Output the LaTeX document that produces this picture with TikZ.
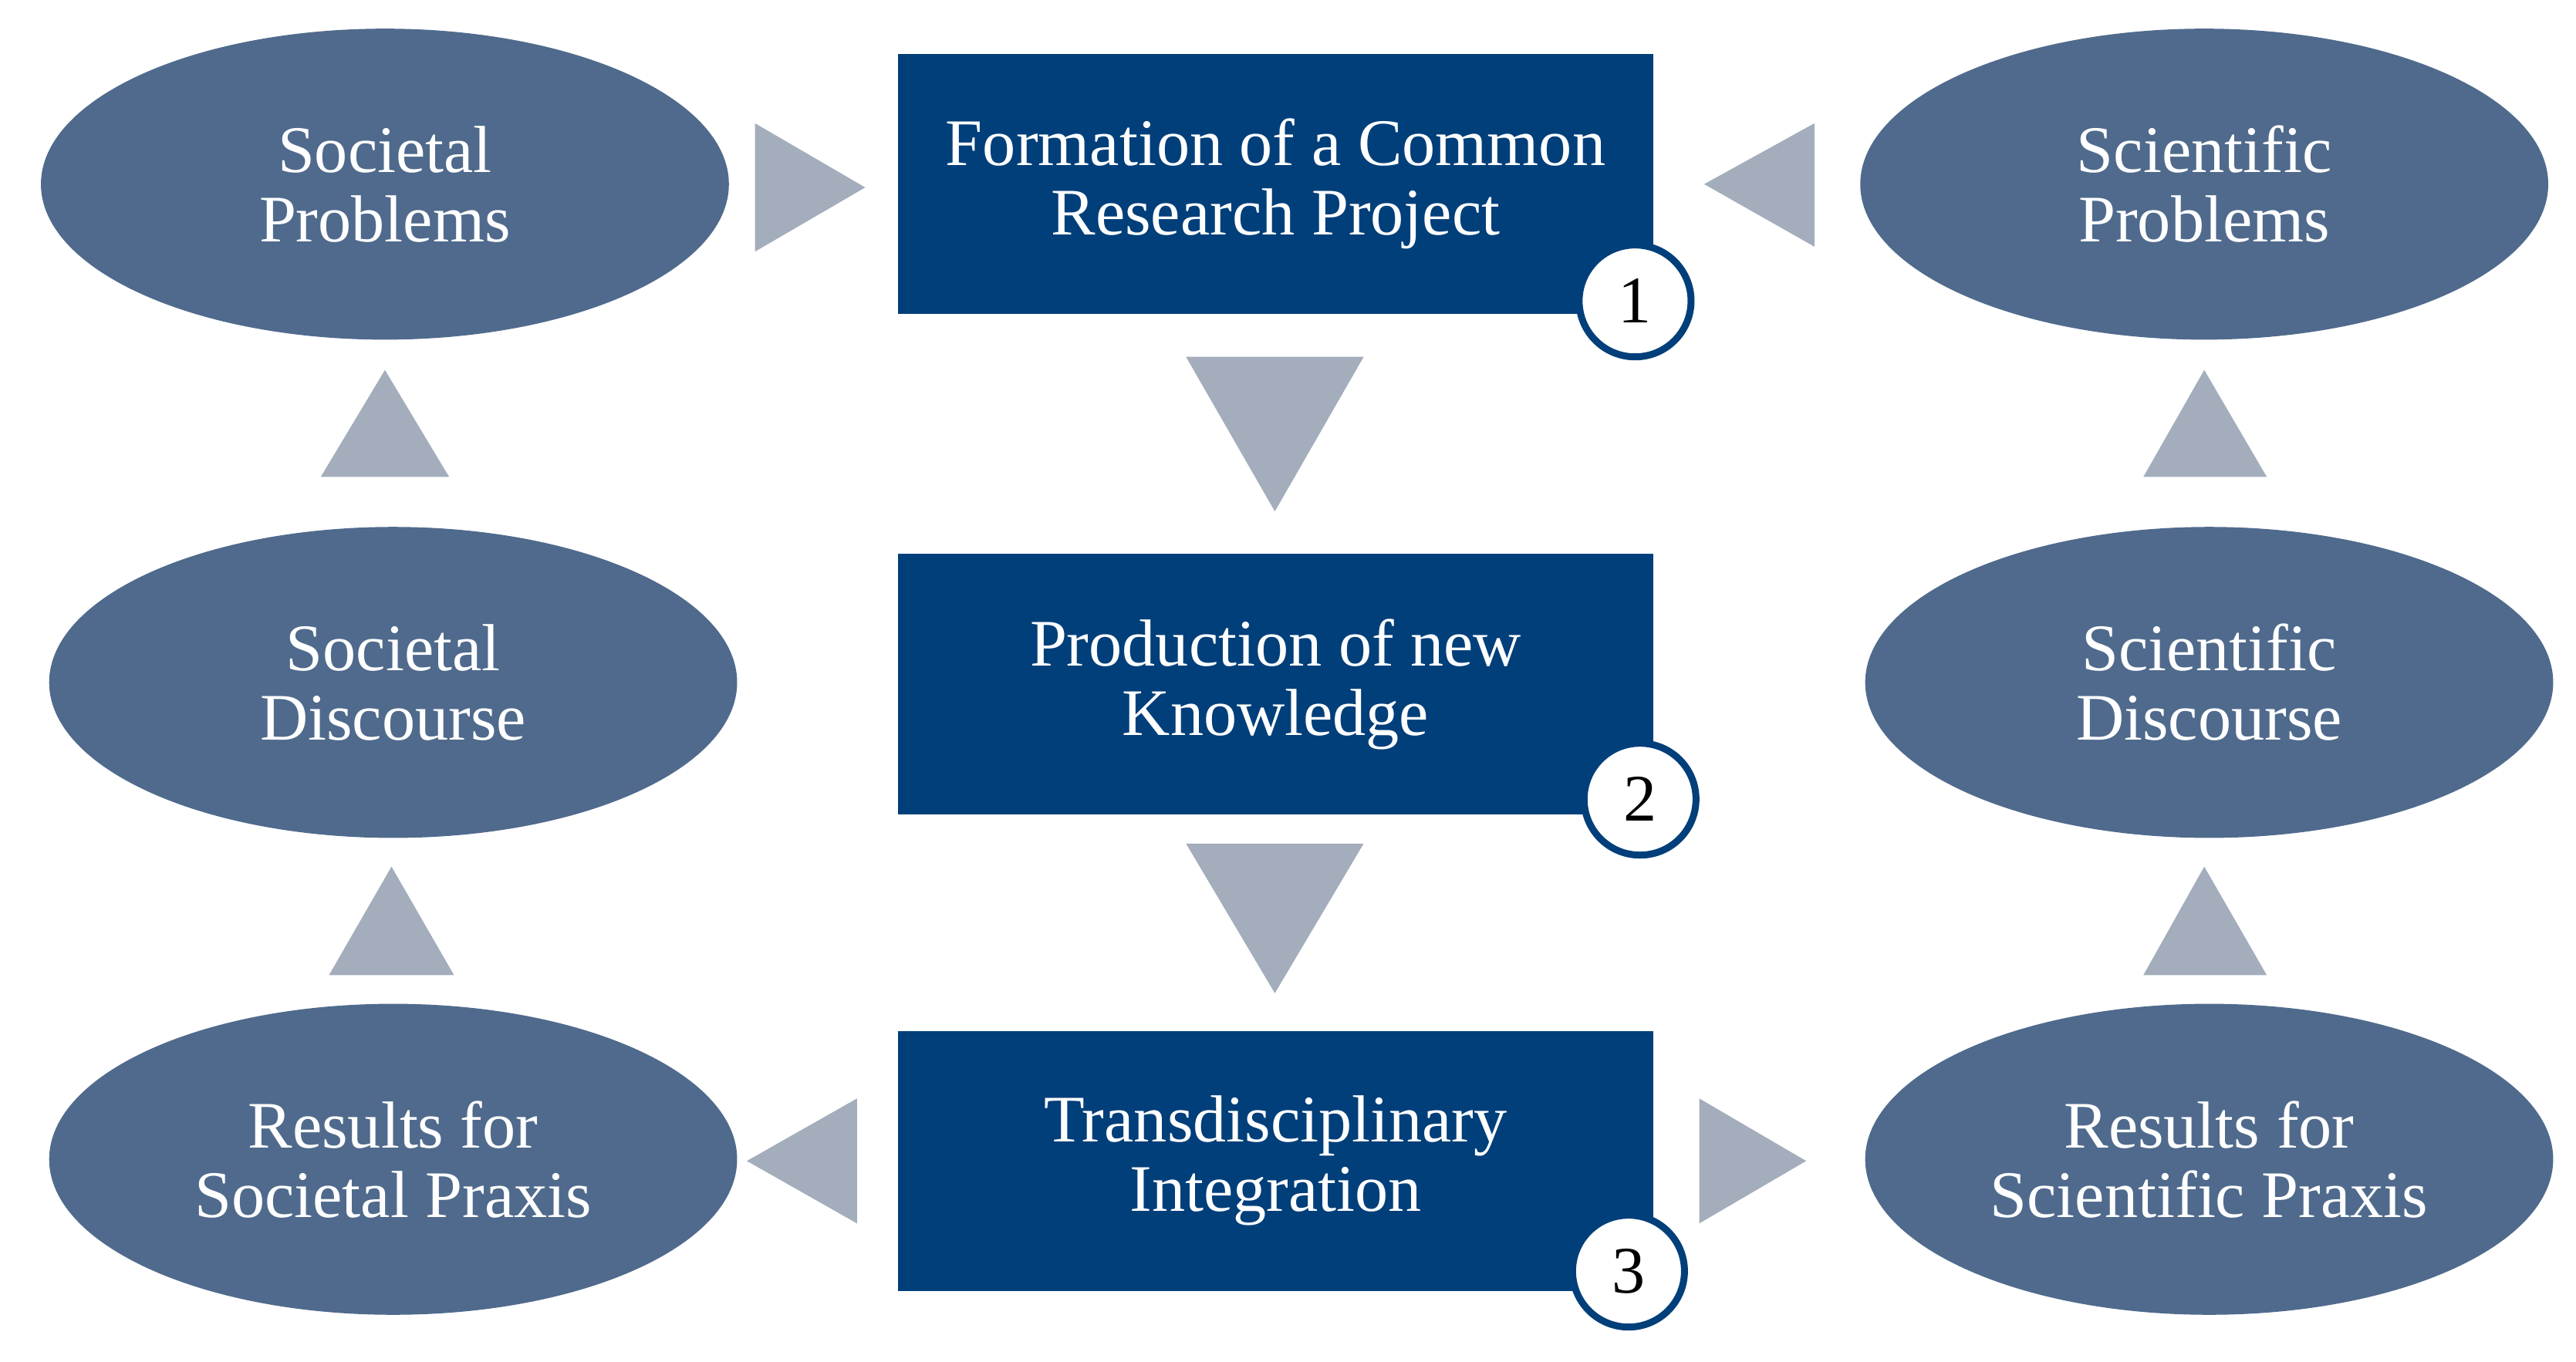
\documentclass[tikz,border=0pt]{standalone}
\usepackage{fontspec}
\setmainfont{Liberation Serif}
\usetikzlibrary{shapes.geometric}
\definecolor{ell}{HTML}{4F6A8C}
\definecolor{box}{HTML}{003F7A}
\definecolor{tri}{HTML}{A3ADBB}
\begin{document}
\begin{tikzpicture}[x=0.01cm,y=-0.01cm,
  el/.style={ellipse,fill=ell,minimum width=418\pgflinewidth*0+4.18cm,minimum height=1.89cm,text=white,align=center,font=\fontsize{11.5}{12}\selectfont,inner sep=0pt},
  bx/.style={rectangle,fill=box,minimum width=4.59cm,minimum height=1.58cm,text=white,align=center,font=\fontsize{11.5}{12}\selectfont},
  num/.style={circle,fill=white,draw=box,line width=1.2pt,minimum size=0.68cm,inner sep=0pt,font=\fontsize{11.5}{12}\selectfont},
  tr/.style={fill=tri}]
\useasboundingbox (0,0) rectangle (1566,828);
\node[el] (sp) at (234,112) {Societal\\Problems};
\node[el] (sd) at (239,415) {Societal\\Discourse};
\node[el] (sr) at (239,705) {Results for\\Societal Praxis};
\node[el] (cp) at (1340,112) {Scientific\\Problems};
\node[el] (cd) at (1343,415) {Scientific\\Discourse};
\node[el] (cr) at (1343,705) {Results for\\Scientific Praxis};
\node[bx] (b1) at (775.5,112) {Formation of a Common\\Research Project};
\node[bx] (b2) at (775.5,416) {Production of new\\Knowledge};
\node[bx] (b3) at (775.5,706) {Transdisciplinary\\Integration};
\node[num] (n1) at (994,183) {1};
\node[num] (n2) at (997,486) {2};
\node[num] (n3) at (990,773) {3};
\fill[tr] (459,75) -- (459,153) -- (526,114) -- cycle;
\fill[tr] (1103,75) -- (1103,150) -- (1036,112) -- cycle;
\fill[tr] (721,217) -- (829,217) -- (775,311) -- cycle;
\fill[tr] (721,513) -- (829,513) -- (775,604) -- cycle;
\fill[tr] (195,290) -- (273,290) -- (234,225) -- cycle;
\fill[tr] (200,593) -- (276,593) -- (238,527) -- cycle;
\fill[tr] (1303,290) -- (1378,290) -- (1340,225) -- cycle;
\fill[tr] (1303,593) -- (1378,593) -- (1340,527) -- cycle;
\fill[tr] (521,668) -- (521,744) -- (454,706) -- cycle;
\fill[tr] (1033,668) -- (1033,744) -- (1098,706) -- cycle;
\end{tikzpicture}
\end{document}
